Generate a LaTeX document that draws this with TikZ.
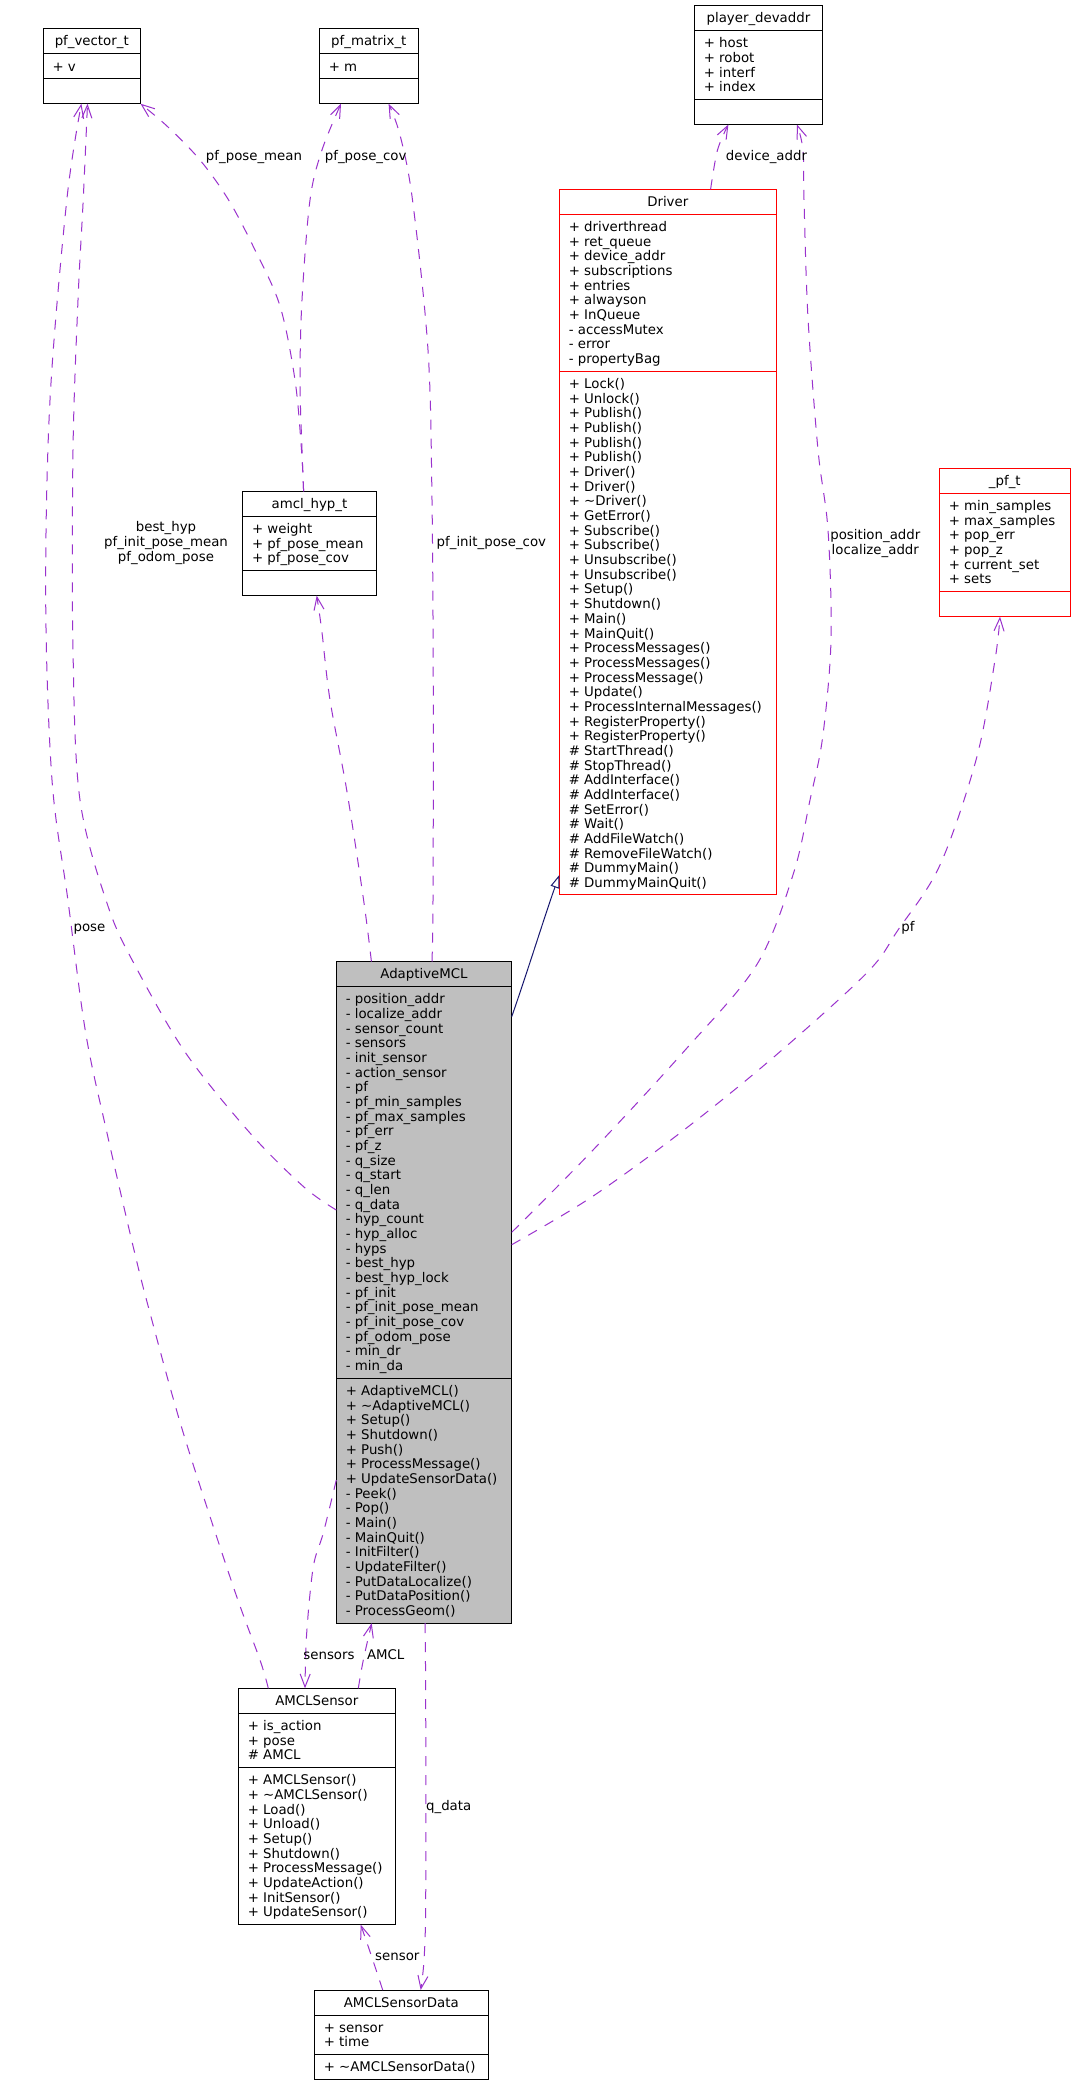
\documentclass[tikz,border=0pt]{standalone}
\usepackage{fontspec}
\setmainfont{DejaVu Sans}
\usetikzlibrary{calc,arrows.meta}
\definecolor{edgepurple}{HTML}{9A32CD}
\definecolor{inhblue}{HTML}{191970}
\definecolor{boxgray}{HTML}{BFBFBF}
\newcommand{\dfont}{\fontsize{13.33}{14.67}\selectfont}
\tikzset{
 txt/.style={font=\dfont, inner sep=0pt, outer sep=0pt, text=black},
 body/.style={txt, anchor=north west, align=left},
 lbl/.style={txt, anchor=north, align=center},
 usage/.style={draw=edgepurple, line width=1pt, dash pattern=on 10pt off 9pt, -{Straight Barb[length=13pt,width=10pt]}},
 inherit/.style={draw=inhblue, line width=1pt, -{Triangle[open,length=13pt,width=9pt]}},
}
% name, x0, y0, width, n attributes, n methods, draw colour, fill colour, title
\newcommand{\clsbox}[9]{%
  \pgfmathsetmacro{\clsA}{max(25,#5*14.667+10.333)}%
  \pgfmathsetmacro{\clsM}{max(25,#6*14.667+10.333)}%
  \pgfmathsetmacro{\clsH}{25+\clsA+\clsM}%
  \node[draw=#7, fill=#8, line width=1pt, inner sep=0pt, outer sep=0pt, minimum width=#4pt, minimum height=\clsH pt, anchor=north west] (#1) at (#2,#3) {};
  \coordinate (#1-s1) at ($(#1.north west)+(0,25)$);
  \coordinate (#1-s2) at ($(#1-s1)+(0,\clsA)$);
  \draw[draw=#7, line width=1pt] (#1-s1) -- (#1-s1 -| #1.east);
  \draw[draw=#7, line width=1pt] (#1-s2) -- (#1-s2 -| #1.east);
  \node[txt, anchor=base] (#1-title) at ($(#1.north)+(0,17)$) {#9};
}
\newcommand{\clsbody}[3]{\node[body] (#1-#2t) at ($(#1-#2)+(9.5,7.03)$) {\strut#3};}
\begin{document}
\begin{tikzpicture}[x=1pt,y=-1pt]
\fill[white] (0,0) rectangle (1075,2085);
\useasboundingbox (0,0) rectangle (1075,2085);

% ---------- classes ----------
\clsbox{pfvec}{43}{28.7}{97.5}{1}{0}{black}{white}{pf\_vector\_t}
\clsbody{pfvec}{s1}{+ v}

\clsbox{pfmat}{319.3}{28.7}{99}{1}{0}{black}{white}{pf\_matrix\_t}
\clsbody{pfmat}{s1}{+ m}

\clsbox{devaddr}{694.3}{5.5}{128.3}{4}{0}{black}{white}{player\_devaddr}
\clsbody{devaddr}{s1}{+ host\\+ robot\\+ interf\\+ index}

\clsbox{driver}{559.3}{189.3}{217}{10}{35}{red}{white}{Driver}
\clsbody{driver}{s1}{+ driverthread\\+ ret\_queue\\+ device\_addr\\+ subscriptions\\+ entries\\+ alwayson\\+ InQueue\\- accessMutex\\- error\\- propertyBag}
\clsbody{driver}{s2}{+ Lock()\\+ Unlock()\\+ Publish()\\+ Publish()\\+ Publish()\\+ Publish()\\+ Driver()\\+ Driver()\\+ \textasciitilde Driver()\\+ GetError()\\+ Subscribe()\\+ Subscribe()\\+ Unsubscribe()\\+ Unsubscribe()\\+ Setup()\\+ Shutdown()\\+ Main()\\+ MainQuit()\\+ ProcessMessages()\\+ ProcessMessages()\\+ ProcessMessage()\\+ Update()\\+ ProcessInternalMessages()\\+ RegisterProperty()\\+ RegisterProperty()\\\# StartThread()\\\# StopThread()\\\# AddInterface()\\\# AddInterface()\\\# SetError()\\\# Wait()\\\# AddFileWatch()\\\# RemoveFileWatch()\\\# DummyMain()\\\# DummyMainQuit()}

\clsbox{hyp}{242.5}{491.3}{134}{3}{0}{black}{white}{amcl\_hyp\_t}
\clsbody{hyp}{s1}{+ weight\\+ pf\_pose\_mean\\+ pf\_pose\_cov}

\clsbox{pft}{939.3}{468.3}{131}{6}{0}{red}{white}{\_pf\_t}
\clsbody{pft}{s1}{+ min\_samples\\+ max\_samples\\+ pop\_err\\+ pop\_z\\+ current\_set\\+ sets}

\clsbox{amcl}{336.3}{961.5}{175.4}{26}{16}{black}{boxgray}{AdaptiveMCL}
\clsbody{amcl}{s1}{- position\_addr\\- localize\_addr\\- sensor\_count\\- sensors\\- init\_sensor\\- action\_sensor\\- pf\\- pf\_min\_samples\\- pf\_max\_samples\\- pf\_err\\- pf\_z\\- q\_size\\- q\_start\\- q\_len\\- q\_data\\- hyp\_count\\- hyp\_alloc\\- hyps\\- best\_hyp\\- best\_hyp\_lock\\- pf\_init\\- pf\_init\_pose\_mean\\- pf\_init\_pose\_cov\\- pf\_odom\_pose\\- min\_dr\\- min\_da}
\clsbody{amcl}{s2}{+ AdaptiveMCL()\\+ \textasciitilde AdaptiveMCL()\\+ Setup()\\+ Shutdown()\\+ Push()\\+ ProcessMessage()\\+ UpdateSensorData()\\- Peek()\\- Pop()\\- Main()\\- MainQuit()\\- InitFilter()\\- UpdateFilter()\\- PutDataLocalize()\\- PutDataPosition()\\- ProcessGeom()}

\clsbox{sensor}{238.3}{1688.3}{157}{3}{10}{black}{white}{AMCLSensor}
\clsbody{sensor}{s1}{+ is\_action\\+ pose\\\# AMCL}
\clsbody{sensor}{s2}{+ AMCLSensor()\\+ \textasciitilde AMCLSensor()\\+ Load()\\+ Unload()\\+ Setup()\\+ Shutdown()\\+ ProcessMessage()\\+ UpdateAction()\\+ InitSensor()\\+ UpdateSensor()}

\clsbox{sdata}{314.3}{1990}{174}{2}{1}{black}{white}{AMCLSensorData}
\clsbody{sdata}{s1}{+ sensor\\+ time}
\clsbody{sdata}{s2}{+ \textasciitilde AMCLSensorData()}

% ---------- connectors ----------
% best_hyp / pf_init_pose_mean / pf_odom_pose
\draw[usage] plot[smooth, tension=0.55] coordinates {($(amcl.north west)+(0,248.5)$) (303.6,1186.7) (250,1133) (185.7,1053) (135.7,966.7) (108.2,906.7) (80,800) (73,650) (73,450) (78,300) (83.2,200) ($(pfvec.south west)+(44.5,0)$)};
% pose
\draw[usage] plot[smooth, tension=0.55] coordinates {($(sensor.north west)+(30,0)$) (260,1660) (233.3,1586.7) (183.3,1433) (150,1313) (134,1250) (107,1133) (85.7,1033) (67.9,900) (52,780) (45.7,600) (50,400) (66.8,200) ($(pfvec.south west)+(38.4,0)$)};
% pf_pose_mean
\draw[usage] plot[smooth, tension=0.55] coordinates {($(hyp.north west)+(61.1,0)$) (301.5,450) (295,380) (280,306) (255,250) (228.6,200) (200,160) (168,127) (pfvec.south east)};
% pf_pose_cov
\draw[usage] plot[smooth, tension=0.55] coordinates {($(hyp.north west)+(61.1,0)$) (302,450) (300,380) (302,300) (310,200) (322,150) ($(pfmat.south west)+(21.7,0)$)};
% pf_init_pose_cov
\draw[usage] plot[smooth, tension=0.55] coordinates {($(amcl.north west)+(95.7,0)$) (433,900) (433.3,700) (432,500) (428,350) (412.5,200) (400,135) ($(pfmat.south west)+(69.3,0)$)};
% hyps (no label)
\draw[usage] plot[smooth, tension=0.55] coordinates {($(amcl.north west)+(35.1,0)$) (363.6,900) (346.7,790) (330,700) (321.7,630) ($(hyp.south west)+(74.2,0)$)};
% device_addr
\draw[usage] plot[smooth, tension=0.55] coordinates {($(driver.north west)+(151.3,0)$) (717.5,150) ($(devaddr.south west)+(34.1,0)$)};
% position_addr / localize_addr
\draw[usage] plot[smooth, tension=0.55] coordinates {($(amcl.north east)+(0,270.8)$) (591.7,1151.4) (683.4,1052) (756.7,964.8) (793.4,873.6) (810,800) (822.7,736.8) (831,640) (828,530) (818,450) (808,318) (804,200) (803,150) ($(devaddr.south west)+(102.7,0)$)};
% pf
\draw[usage] plot[smooth, tension=0.55] coordinates {($(amcl.north east)+(0,283.2)$) (591.7,1197) (683,1130.7) (775,1056) (866.7,973) (898,930) (940,865) (976.7,757.5) (995,660) ($(pft.south west)+(60.7,0)$)};
% inheritance
\draw[inherit] ($(amcl.north east)+(0,55.2)$) .. controls (528,970) and (545,915) .. ($(driver.north west)+(0,685.7)$);
% sensors
\draw[usage] plot[smooth, tension=0.55] coordinates {($(amcl.north west)+(0,518.5)$) (323.3,1533) (313.3,1566.7) (306.7,1633) ($(sensor.north west)+(66.7,0)$)};
% AMCL
\draw[usage] plot[smooth, tension=0.55] coordinates {($(sensor.north west)+(120,0)$) (363.3,1660) ($(amcl.south west)+(35.4,0)$)};
% q_data
\draw[usage] plot[smooth, tension=0.55] coordinates {($(amcl.south west)+(88.7,0)$) (425.7,1700) (425.7,1900) (424,1960) ($(sdata.north west)+(106.4,0)$)};
% sensor
\draw[usage] plot[smooth, tension=0.55] coordinates {($(sdata.north west)+(68.4,0)$) (371.7,1956.7) ($(sensor.south west)+(122.4,0)$)};

% ---------- labels ----------
\node[lbl] (lab-best) at (166,521.4) {\strut best\_hyp\\pf\_init\_pose\_mean\\pf\_odom\_pose};
\node[lbl] (lab-pose) at (89.5,921.4) {\strut pose};
\node[lbl] (lab-pmean) at (254,150.4) {\strut pf\_pose\_mean};
\node[lbl] (lab-pcov) at (365.7,150.4) {\strut pf\_pose\_cov};
\node[lbl] (lab-picov) at (491.4,536) {\strut pf\_init\_pose\_cov};
\node[lbl] (lab-dev) at (766.5,150.4) {\strut device\_addr};
\node[lbl] (lab-pos) at (875.3,529.4) {\strut position\_addr\\localize\_addr};
\node[lbl] (lab-pf) at (908,921.2) {\strut pf};
\node[lbl] (lab-sensors) at (329,1649.7) {\strut sensors};
\node[lbl] (lab-amcl) at (385.7,1649.7) {\strut AMCL};
\node[lbl] (lab-qdata) at (448.7,1800.4) {\strut q\_data};
\node[lbl] (lab-sensor) at (397.3,1950.4) {\strut sensor};
\end{tikzpicture}
\end{document}
